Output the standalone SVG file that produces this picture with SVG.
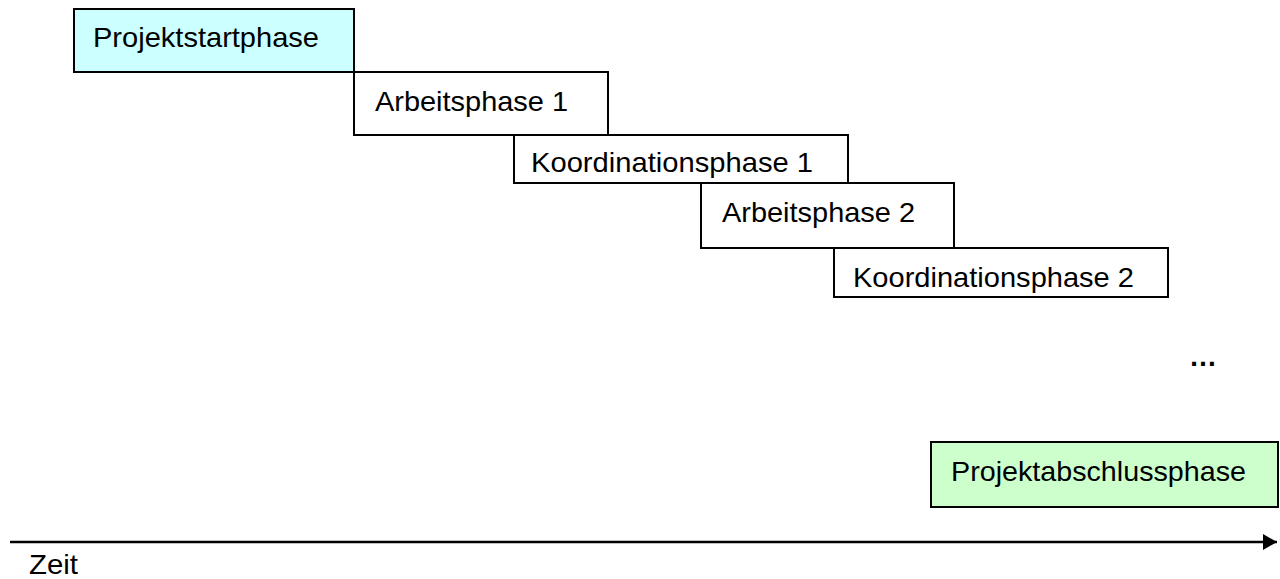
<svg xmlns="http://www.w3.org/2000/svg" width="1280" height="579" viewBox="0 0 1280 579">
  <style>
    .box { stroke: #000; stroke-width: 2; fill: #fff; }
    .start { fill: #ccffff; }
    .end { fill: #ccffcc; }
    .lbl { font-family: "Liberation Sans", Arial, sans-serif; font-size: 28px; fill: #000; }
    .axis { stroke: #000; stroke-width: 2.5; fill: none; }
  </style>
  <defs>
    <marker id="arrowhead" markerWidth="14" markerHeight="16" refX="14" refY="8" orient="auto" markerUnits="userSpaceOnUse">
      <path d="M0,0 L14,8 L0,16 Z" fill="#000"/>
    </marker>
  </defs>

  <rect width="1280" height="579" fill="#fff"/>

  <g id="projektstartphase">
    <rect class="box start" x="74" y="9" width="280" height="63"/>
    <text class="lbl" x="93" y="47" textLength="226" lengthAdjust="spacingAndGlyphs">Projektstartphase</text>
  </g>

  <g id="arbeitsphase-1">
    <rect class="box" x="354" y="72" width="254" height="63"/>
    <text class="lbl" x="375" y="111" textLength="193" lengthAdjust="spacingAndGlyphs">Arbeitsphase 1</text>
  </g>

  <g id="koordinationsphase-1">
    <rect class="box" x="514" y="135" width="334" height="48"/>
    <text class="lbl" x="531" y="172" textLength="282" lengthAdjust="spacingAndGlyphs">Koordinationsphase 1</text>
  </g>

  <g id="arbeitsphase-2">
    <rect class="box" x="701" y="183" width="253" height="65"/>
    <text class="lbl" x="722" y="222" textLength="193" lengthAdjust="spacingAndGlyphs">Arbeitsphase 2</text>
  </g>

  <g id="koordinationsphase-2">
    <rect class="box" x="834" y="248" width="334" height="49"/>
    <text class="lbl" x="853" y="287" textLength="281" lengthAdjust="spacingAndGlyphs">Koordinationsphase 2</text>
  </g>

  <g id="ellipsis">
    <text class="lbl" x="1189" y="366" font-weight="bold">…</text>
  </g>

  <g id="projektabschlussphase">
    <rect class="box end" x="931" y="442" width="347" height="65"/>
    <text class="lbl" x="951" y="481" textLength="295" lengthAdjust="spacingAndGlyphs">Projektabschlussphase</text>
  </g>

  <g id="connectors">
    <line class="axis" x1="10" y1="542" x2="1277" y2="542" marker-end="url(#arrowhead)"/>
  </g>

  <g id="zeit">
    <text class="lbl" x="29" y="574" textLength="49" lengthAdjust="spacingAndGlyphs">Zeit</text>
  </g>
</svg>
